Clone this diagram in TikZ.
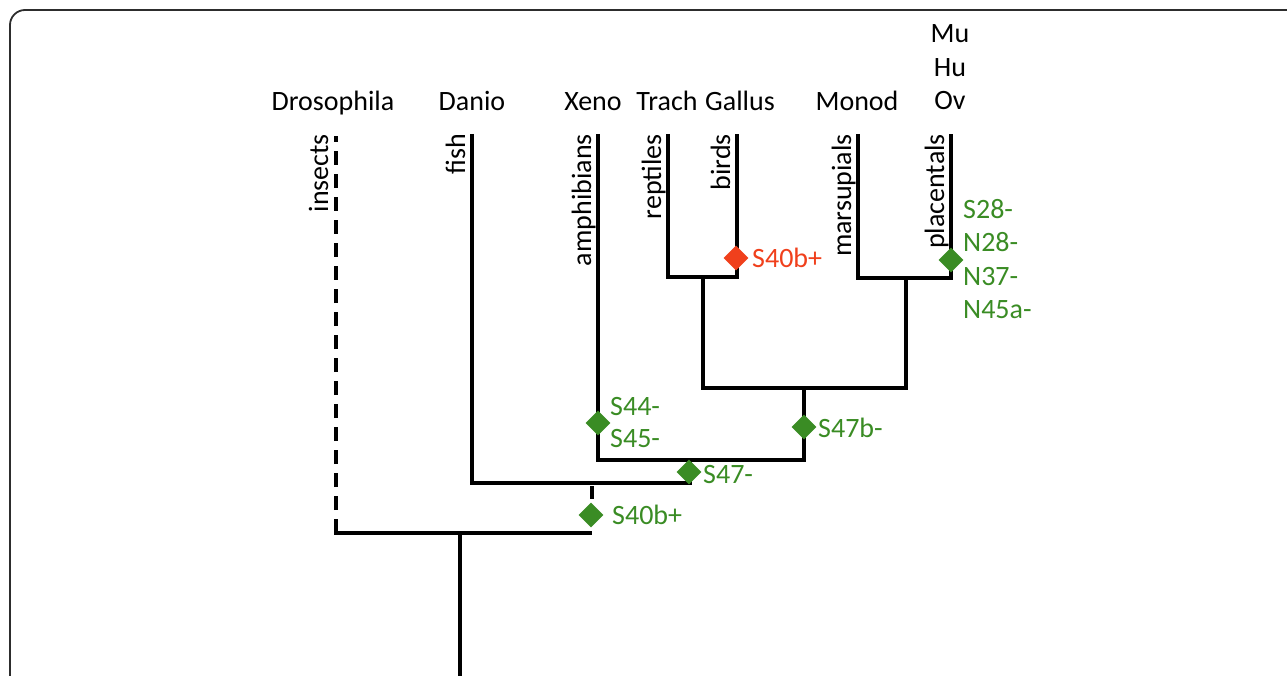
\documentclass[tikz,border=0pt]{standalone}
\usepackage{fontspec}
\setmainfont{Carlito}
\usetikzlibrary{shapes.geometric}
\definecolor{markgreen}{RGB}{58,140,36}
\definecolor{markred}{RGB}{240,64,28}
\definecolor{framegray}{RGB}{45,45,45}
\begin{document}
\begin{tikzpicture}[x=1pt,y=-1pt,
  branch/.style={line width=3.3pt, line join=miter},
  lbl/.style={font=\fontsize{28}{33}\selectfont, inner sep=0pt},
  taxon/.style={lbl, anchor=base},
  clade/.style={lbl, rotate=90, anchor=base east},
  gmark/.style={diamond, fill=markgreen, inner sep=0pt, minimum size=25pt},
  rmark/.style={diamond, fill=markred, inner sep=0pt, minimum size=25pt},
  gtxt/.style={lbl, text=markgreen, anchor=base west},
  rtxt/.style={lbl, text=markred, anchor=base west}]

\useasboundingbox (0,0) rectangle (1287,676);
\begin{scope}
  \clip (0,0) rectangle (1287,676);
  \draw[framegray, line width=1.8pt, rounded corners=15pt] (10,10) rectangle (1330,730);
\end{scope}

% tips of the branches
\coordinate (tIns)  at (336,136);
\coordinate (tFish) at (472,134);
\coordinate (tAmph) at (598,134);
\coordinate (tRep)  at (668,134);
\coordinate (tBird) at (737,134);
\coordinate (tMars) at (858,134);
\coordinate (tPlac) at (951,134);
% internal joints
\coordinate (jBird) at (703,277);
\coordinate (jMam)  at (906,278);
\coordinate (jAmn)  at (804,388);
\coordinate (jTet)  at (690,460);
\coordinate (jFish) at (690,483);
\coordinate (oTop)  at (592,486);
\coordinate (oBot)  at (592,499);
\coordinate (rL)    at (336,533);
\coordinate (rR)    at (592,533);
\coordinate (root)  at (460,533);
\coordinate (base)  at (460,690);

% tree
\draw[branch] (tRep) |- (jBird) -| (tBird);
\draw[branch] (tMars) |- (jMam) -| (tPlac);
\draw[branch] (jBird) |- (jAmn) -| (jMam);
\draw[branch] (tAmph) |- (jTet) -| (jAmn);
\draw[branch] (tFish) |- (jFish) -- (jTet);
\draw[branch] (oTop) -- (oBot);
\draw[branch, shorten <=-1.65pt] (rL) -- (rR);
\draw[branch] (root) -- (base);
\draw[branch, dash pattern=on 14pt off 9pt] (rL) -- (tIns);

% species
\node[taxon] (dros)   at (333,111) {Drosophila};
\node[taxon] (danio)  at (472,111) {Danio};
\node[taxon] (xeno)   at (593,111) {Xeno};
\node[taxon] (trach)  at (667,111) {Trach};
\node[taxon] (gallus) at (740,111) {Gallus};
\node[taxon] (monod)  at (857,111) {Monod};
\node[taxon] (mu)     at (950,43)  {Mu};
\node[taxon] (hu)     at (950,77)  {Hu};
\node[taxon] (ov)     at (950,110) {Ov};

% groups
\node[clade] (insects)    at (328,134) {insects};
\node[clade] (fish)       at (465,134) {fish};
\node[clade] (amphibians) at (591,134) {amphibians};
\node[clade] (reptiles)   at (661,134) {reptiles};
\node[clade] (birds)      at (730,134) {birds};
\node[clade] (marsupials) at (851,134) {marsupials};
\node[clade] (placentals) at (944,134) {placentals};

% events on the branches
\node[gmark] (m40)  at (591,515) {};
\node[gtxt]  (t40)  at (612,524) {S40b+};
\node[gmark] (m44)  at (598,423) {};
\node[gtxt]  (t44)  at (610,415) {S44-};
\node[gtxt]  (t45)  at (610,447) {S45-};
\node[gmark] (m47)  at (689,472) {};
\node[gtxt]  (t47)  at (703,483) {S47-};
\node[gmark] (m47b) at (804,427) {};
\node[gtxt]  (t47b) at (818,437) {S47b-};
\node[rmark] (m40r) at (736,258) {};
\node[rtxt]  (t40r) at (752,268) {S40b+};
\node[gmark] (mpl)  at (951,260) {};
\node[gtxt]  (s28)  at (963,219) {S28-};
\node[gtxt]  (n28)  at (963,252) {N28-};
\node[gtxt]  (n37)  at (963,285) {N37-};
\node[gtxt]  (n45a) at (963,318) {N45a-};
\end{tikzpicture}
\end{document}
